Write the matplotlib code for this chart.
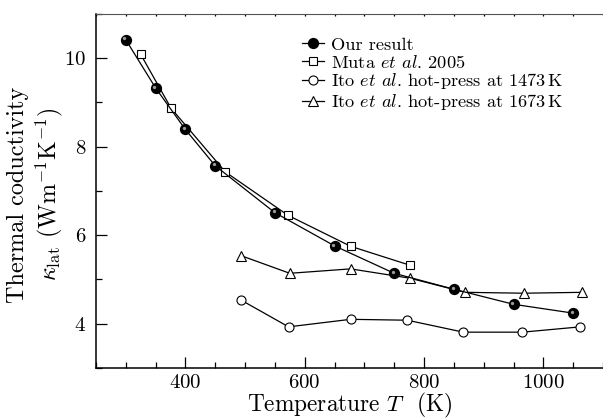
import matplotlib
matplotlib.use('Agg')
import matplotlib.pyplot as plt
from matplotlib.ticker import MultipleLocator
from matplotlib.transforms import offset_copy

plt.rcParams['font.family'] = ['cmr10', 'DejaVu Serif']
plt.rcParams['mathtext.fontset'] = 'cm'
plt.rcParams['axes.unicode_minus'] = False
plt.rcParams['axes.formatter.use_mathtext'] = True

# our result
t_ours = [300, 350, 400, 450, 550, 650, 750, 850, 950, 1050]
k_ours = [10.42, 9.33, 8.39, 7.57, 6.51, 5.76, 5.14, 4.78, 4.44, 4.24]

# Muta et al. 2005
t_muta = [325, 376, 467, 572, 677, 777]
k_muta = [10.09, 8.87, 7.43, 6.45, 5.75, 5.32]

# Ito et al. hot-press at 1473 K
t_ito1 = [494, 573, 677, 772, 866, 965, 1062]
k_ito1 = [4.53, 3.93, 4.10, 4.08, 3.81, 3.81, 3.93]

# Ito et al. hot-press at 1673 K
t_ito2 = [493, 575, 677, 776, 869, 967, 1065]
k_ito2 = [5.54, 5.14, 5.24, 5.03, 4.71, 4.69, 4.71]

fig = plt.figure(figsize=(6.03, 4.19), dpi=100)
ax = fig.add_axes([0.159, 0.1217, 0.841, 0.845])

lw = 0.9
ms = 6.5
ax.plot(t_ito1, k_ito1, '-o', color='black', lw=lw, ms=ms, mfc='white', mec='black', mew=0.8,
        label=r'Ito $et$ $al$. hot-press at 1473$\,$K', zorder=3)
ax.plot(t_ito2, k_ito2, '-^', color='black', lw=lw, ms=ms + 0.5, mfc='white', mec='black', mew=0.8,
        label=r'Ito $et$ $al$. hot-press at 1673$\,$K', zorder=3)
ax.plot(t_muta, k_muta, '-s', color='black', lw=lw, ms=ms - 0.3, mfc='white', mec='black', mew=0.8,
        label=r'Muta $et$ $al$. 2005', zorder=4)
ax.plot(t_ours, k_ours, '-o', color='black', lw=lw, ms=ms + 0.6, mfc='black', mec='black',
        label='Our result', zorder=5)
# little highlight on the spheres
hl = offset_copy(ax.transData, fig=fig, x=-1.3, y=1.3, units='dots')
ax.plot(t_ours, k_ours, 'o', color='#9a9a9a', ms=2.4, mew=0, transform=hl, zorder=6)

h, l = ax.get_legend_handles_labels()
order = [3, 2, 0, 1]
ax.legend([h[i] for i in order], [l[i] for i in order], loc='upper left',
          bbox_to_anchor=(0.373, 0.982), frameon=False, fontsize=13.2,
          handlelength=1.2, handletextpad=0.4, labelspacing=0.05, borderpad=0.4)

ax.set_xlim(250, 1100)
ax.set_ylim(3, 11)
ax.xaxis.set_major_locator(MultipleLocator(200))
ax.xaxis.set_minor_locator(MultipleLocator(50))
ax.yaxis.set_major_locator(MultipleLocator(2))
ax.yaxis.set_minor_locator(MultipleLocator(1))
ax.tick_params(which='major', direction='in', length=8, width=0.9, labelsize=15,
               top=True, right=False)
ax.tick_params(which='minor', direction='in', length=4, width=0.9, top=True, right=False)
ax.tick_params(axis='y', which='major', pad=7)
ax.tick_params(axis='x', which='major', pad=4)
for t in ax.xaxis.get_major_ticks() + ax.xaxis.get_minor_ticks():
    t.tick2line.set_markersize(1.5)
ax.spines['right'].set_visible(False)
ax.spines['top'].set_color('#555555')
for s in ['left', 'bottom']:
    ax.spines[s].set_linewidth(1.1)

ax.set_xlabel(r'Temperature $T$  (K)', fontsize=16.8, va='bottom')
ax.xaxis.set_label_coords(0.5, -0.147)
ax.set_ylabel('Thermal coductivity\n' + r'$\kappa_{\rm lat}$ (Wm$^{-1}$K$^{-1}$)',
              fontsize=17.4, linespacing=1.2)
ax.yaxis.set_label_coords(-0.06, 0.49)

fig.savefig('out.png', dpi=100)
